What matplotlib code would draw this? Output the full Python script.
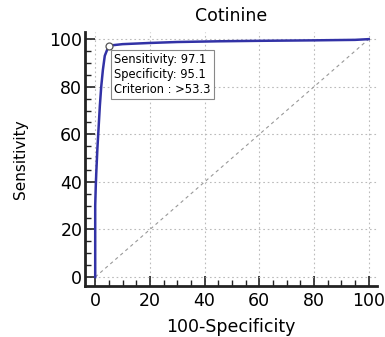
import matplotlib.pyplot as plt
from matplotlib.ticker import MultipleLocator

plt.rcParams["font.family"] = ["DejaVu Sans"]

# ROC curve points (100-Specificity, Sensitivity)
fpr = [0, 0, 0.2, 0.4, 0.8, 1.2, 1.7, 2.2, 2.8, 3.5, 4.9, 6, 10, 20, 30, 45, 60, 80, 95, 100]
tpr = [0, 30, 38, 44, 54, 62, 72, 80, 87, 93, 97.1, 97.4, 97.9, 98.4, 98.8, 99.1, 99.3, 99.5, 99.7, 100]

cut_fpr = 4.9
cut_tpr = 97.1
cut_text = "Sensitivity: 97.1\nSpecificity: 95.1\nCriterion : >53.3"

ticks = [0, 20, 40, 60, 80, 100]

fig = plt.figure(figsize=(3.85, 3.37), dpi=100)
ax = fig.add_axes([0.221, 0.151, 0.758, 0.754])

ax.plot([0, 100], [0, 100], color="#999999", lw=0.8, ls=(0, (3, 3)))
ax.plot(fpr, tpr, color="#3232a6", lw=1.8)
ax.plot([cut_fpr], [cut_tpr], "o", ms=5, mfc="white", mec="#555555", mew=0.9)

ax.annotate(cut_text, (cut_fpr, cut_tpr), xytext=(4, -5), textcoords="offset points",
            ha="left", va="top", fontsize=8.3, linespacing=1.2,
            bbox=dict(boxstyle="square,pad=0.3", fc="white", ec="#888888", lw=0.8))

ax.set_xlim(-3.7, 103)
ax.set_ylim(-3.8, 103)
ax.set_xticks(ticks)
ax.set_yticks(ticks)
ax.xaxis.set_minor_locator(MultipleLocator(5))
ax.yaxis.set_minor_locator(MultipleLocator(5))
ax.tick_params(which="major", direction="in", length=7, width=1.2, labelsize=12.5, color="#222222")
ax.tick_params(axis="x", which="major", pad=4)
ax.tick_params(axis="y", which="major", pad=2)
ax.tick_params(which="minor", direction="in", length=4, width=1.0, color="#222222")
ax.grid(True, which="major", color="#bbbbbb", ls=(0, (1.5, 2.5)), lw=0.8)

for s in ["top", "right"]:
    ax.spines[s].set_visible(False)
for s in ["left", "bottom"]:
    ax.spines[s].set_linewidth(2)
    ax.spines[s].set_color("#222222")

ax.set_title("Cotinine", fontsize=12.5, pad=8)
ax.set_xlabel("100-Specificity", fontsize=12.5, labelpad=6)
ax.set_ylabel("Sensitivity", fontsize=11, labelpad=15)

fig.savefig("out.png", dpi=100)
